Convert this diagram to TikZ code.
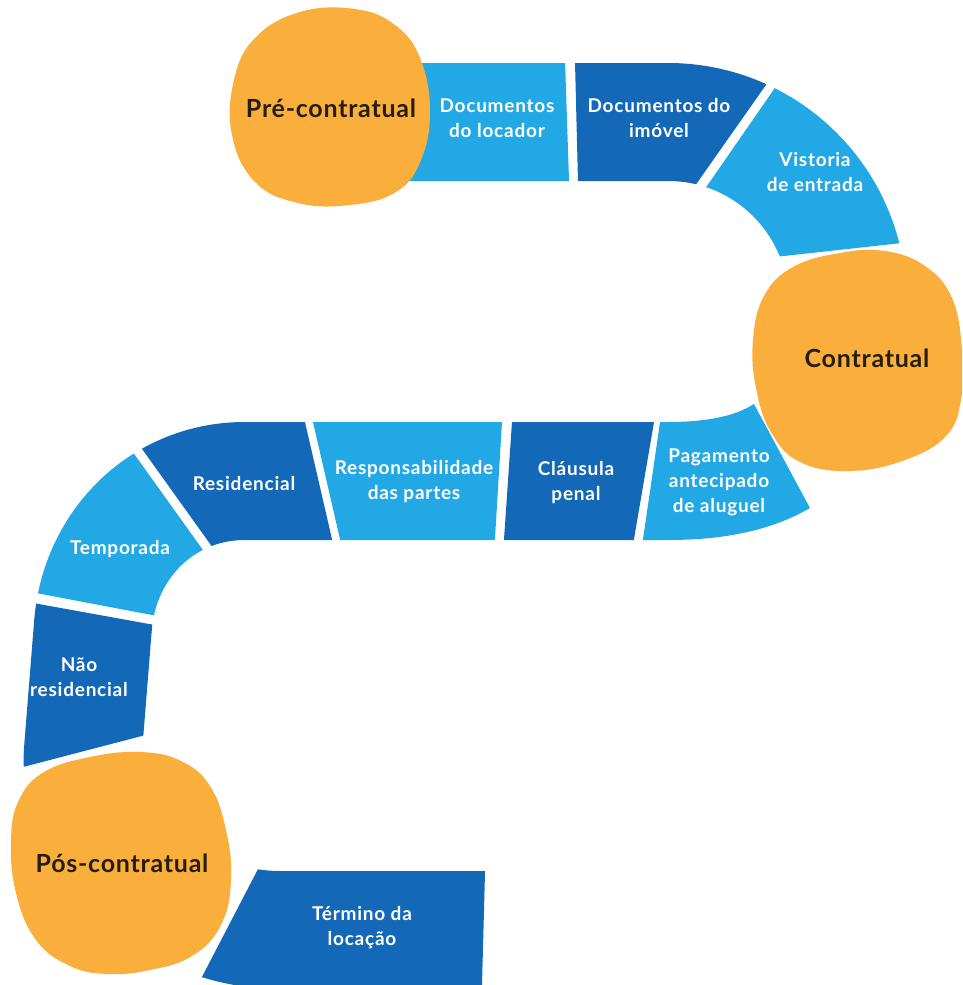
\documentclass[tikz,border=0pt]{standalone}
\usepackage{fontspec}
\setmainfont{Lato}
\newfontfamily\itemfont[LetterSpace=4]{Lato}
\newfontfamily\stagefont[LetterSpace=3]{Lato}
\begin{document}
\definecolor{lightblue}{RGB}{35,168,230}
\definecolor{darkblue}{RGB}{20,104,184}
\definecolor{blobfill}{RGB}{250,175,60}
\definecolor{inkdark}{RGB}{38,30,12}
\begin{tikzpicture}[x=1pt,y=-1pt,
  band/.style={line width=118pt, line cap=butt, line join=round},
  blob/.style={fill=blobfill},
  stage/.style={font=\stagefont\bfseries\fontsize{25}{29}\selectfont, text=inkdark, inner sep=0pt},
  item/.style={font=\itemfont\bfseries\fontsize{19}{25}\selectfont, text=white, align=center, inner sep=0pt}]
\useasboundingbox (0,0) rectangle (962,985);
\clip (0,0) rectangle (962,985);
\fill[white] (0,0) rectangle (962,985);
% centre line of the winding track
\newcommand\snakeline{(340,122) -- (668,122)
  .. controls (767.1,122) and (847.5,202.4) .. (847.5,301.5)
  .. controls (847.5,430) and (790,481) .. (668,481)
  -- (245,481)
  .. controls (162,481) and (99.4,545) .. (93,625)
  -- (83,750)
  .. controls (76,840) and (170,930) .. (280,930)
  -- (500,930)}
% track segments, each cut out of the band
\begin{scope}\clip (300,30) -- (564,30) -- (570,210) -- (300,210) -- cycle;
  \draw[band, lightblue] \snakeline;\end{scope}
\begin{scope}\clip (574.2,30) -- (804.6,30) -- (678,210) -- (578.7,210) -- cycle;
  \draw[band, darkblue] \snakeline;\end{scope}
\begin{scope}\clip (815,30) -- (970,30) -- (970,235.5) -- (669.6,268.6) -- (669.6,240) -- cycle;
  \draw[band, lightblue] \snakeline;\end{scope}
\begin{scope}\clip (667.6,370) -- (735.6,370) -- (838,560) -- (640,560) -- cycle;
  \draw[band, lightblue] \snakeline;\end{scope}
\begin{scope}\clip (513.5,400) -- (657.8,400) -- (630.4,560) -- (502.6,560) -- cycle;
  \draw[band, darkblue] \snakeline;\end{scope}
\begin{scope}\clip (307.9,400) -- (503.3,400) -- (493.7,560) -- (344.8,560) -- cycle;
  \draw[band, lightblue] \snakeline;\end{scope}
\begin{scope}\clip (107,400) -- (299.9,400) -- (336.8,560) -- (221.6,560) -- cycle;
  \draw[band, darkblue] \snakeline;\end{scope}
\begin{scope}\clip (95.5,400) -- (224.4,580) -- (224.4,628.7) -- (0,586.2) -- (0,400) -- cycle;
  \draw[band, lightblue] \snakeline;\end{scope}
\begin{scope}\clip (0,597) -- (200,633.2) -- (200,720.8) -- (0,773) -- cycle;
  \draw[band, darkblue] \snakeline;\end{scope}
\begin{scope}\clip (267.9,850) -- (485.6,850) -- (481.6,1000) -- (190,1000) -- cycle;
  \draw[band, darkblue] \snakeline;\end{scope}
% stage blobs
\fill[blob] plot[smooth cycle, tension=0.7] coordinates {(300,12) (355,9) (395,25) (420,58) (430,110) (421,160) (396,192) (350,205) (298,203) (255,182) (232,135) (234,80) (255,38)};
\fill[blob] plot[smooth cycle, tension=0.7] coordinates {(840,253) (885,251) (925,266) (952,298) (962,350) (961,400) (946,436) (905,460) (850,471) (800,462) (771,432) (756,388) (753,340) (764,296) (793,267)};
\fill[blob] plot[smooth cycle, tension=0.7] coordinates {(140,752) (181,761) (210,786) (226,830) (231,880) (221,925) (192,956) (150,970) (108,974) (70,966) (36,940) (16,893) (11,840) (19,800) (44,772) (90,757)};
% labels
\node[stage] (pre) at (331,108) {Pré-contratual};
\node[stage] (con) at (867,358) {Contratual};
\node[stage] (pos) at (122,863) {Pós-contratual};
\node[item] (locador) at (497,118) {Documentos\\do locador};
\node[item] (imovel) at (659,118) {Documentos do\\imóvel};
\node[item] (vistoria) at (815,172) {Vistoria\\de entrada};
\node[item] (pagamento) at (719,482) {Pagamento\\antecipado\\de aluguel};
\node[item] (clausula) at (576,483) {Cláusula\\penal};
\node[item] (resp) at (414,482) {Responsabilidade\\das partes};
\node[item] (resid) at (244,484) {Residencial};
\node[item] (temp) at (120,549) {Temporada};
\node[item] (naores) at (79,677) {Não\\residencial};
\node[item] (termino) at (362,928) {Término da\\locação};
\end{tikzpicture}
\end{document}
